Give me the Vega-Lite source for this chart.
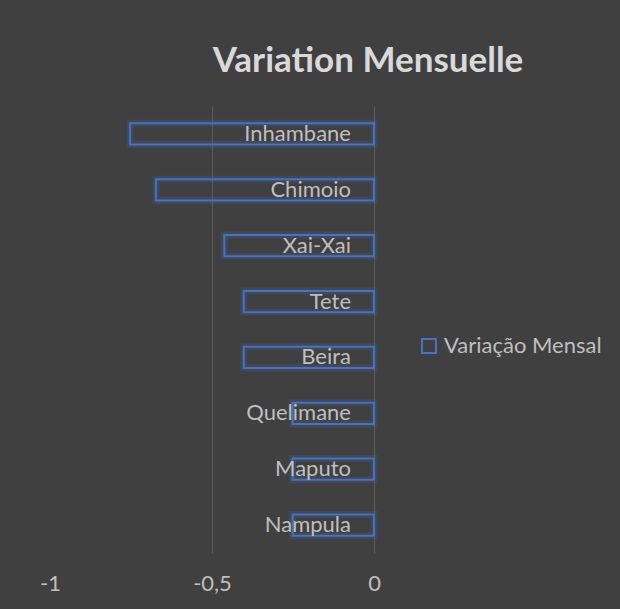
{
  "$schema": "https://vega.github.io/schema/vega-lite/v6.json",
  "width": 324,
  "height": 447,
  "autosize": {"type": "none"},
  "padding": {"left": 50, "top": 106, "right": 246, "bottom": 56},
  "background": "#404040",
  "config": {
    "view": {"stroke": null},
    "font": "Lato"
  },
  "title": {
    "text": "Variation Mensuelle",
    "font": "Lato",
    "fontSize": 35,
    "fontWeight": "bold",
    "color": "#d9d9d9",
    "anchor": "middle",
    "frame": "group",
    "dx": 156,
    "offset": 27
  },
  "data": {
    "values": [
      {"ville": "Inhambane", "variation": -0.753, "serie": "Variação Mensal"},
      {"ville": "Chimoio", "variation": -0.673, "serie": "Variação Mensal"},
      {"ville": "Xai-Xai", "variation": -0.462, "serie": "Variação Mensal"},
      {"ville": "Tete", "variation": -0.402, "serie": "Variação Mensal"},
      {"ville": "Beira", "variation": -0.402, "serie": "Variação Mensal"},
      {"ville": "Quelimane", "variation": -0.251, "serie": "Variação Mensal"},
      {"ville": "Maputo", "variation": -0.251, "serie": "Variação Mensal"},
      {"ville": "Nampula", "variation": -0.251, "serie": "Variação Mensal"}
    ]
  },
  "encoding": {
    "y": {
      "field": "ville",
      "type": "nominal",
      "sort": ["Inhambane", "Chimoio", "Xai-Xai", "Tete", "Beira", "Quelimane", "Maputo", "Nampula"],
      "scale": {"paddingInner": 0.62, "paddingOuter": 0.31},
      "axis": null
    }
  },
  "layer": [
    {
      "mark": {"type": "bar", "fill": "transparent", "stroke": "#4472C4", "strokeWidth": 7, "strokeOpacity": 0.18},
      "encoding": {
        "x": {"field": "variation", "type": "quantitative"},
        "x2": {"datum": 0}
      }
    },
    {
      "mark": {"type": "bar", "fill": "transparent", "strokeWidth": 2},
      "encoding": {
        "x": {
          "field": "variation",
          "type": "quantitative",
          "scale": {"domain": [-1, 0], "nice": false, "zero": false},
          "axis": {
            "title": null,
            "values": [-1, -0.5, 0],
            "domain": false,
            "ticks": false,
            "grid": true,
            "gridColor": {"condition": {"test": "datum.value === -1", "value": "transparent"}, "value": "#5a5a5a"},
            "gridWidth": 1.2,
            "labelColor": "#bfbfbf",
            "labelFont": "Lato",
            "labelFontSize": 22,
            "labelPadding": 20,
            "labelFlush": false,
            "labelExpr": "replace(toString(datum.value), '.', ',')"
          }
        },
        "x2": {"datum": 0},
        "stroke": {
          "field": "serie",
          "type": "nominal",
          "scale": {"range": ["#4472C4"]},
          "legend": {
            "title": null,
            "orient": "none",
            "legendX": 368,
            "legendY": 229,
            "symbolType": "square",
            "symbolSize": 196,
            "symbolFillColor": "transparent",
            "symbolStrokeWidth": 2,
            "symbolStrokeColor": "#4472C4",
            "labelColor": "#bfbfbf",
            "labelFont": "Lato",
            "labelFontSize": 22,
            "labelOffset": 4
          }
        }
      }
    },
    {
      "mark": {"type": "text", "align": "right", "baseline": "middle", "dx": -23, "fontSize": 22, "color": "#bfbfbf", "font": "Lato"},
      "encoding": {
        "x": {"datum": 0},
        "text": {"field": "ville"}
      }
    }
  ]
}
